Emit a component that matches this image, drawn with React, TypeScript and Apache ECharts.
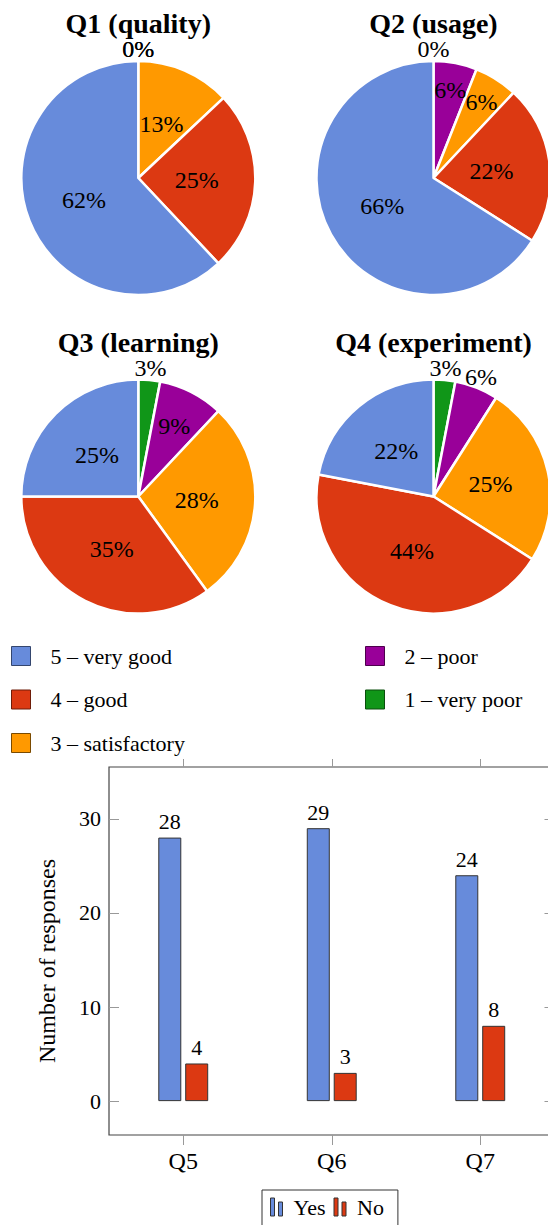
import React, { useEffect, useRef } from "react";
import * as echarts from "echarts";

// ---------- data ----------
const ratingNames = ["1 – very poor", "2 – poor", "3 – satisfactory", "4 – good", "5 – very good"];
const pieTitles = ["Q1 (quality)", "Q2 (usage)", "Q3 (learning)", "Q4 (experiment)"];
const q1Values = [0, 0, 13, 25, 62];
const q2Values = [0, 6, 6, 22, 66];
const q3Values = [3, 9, 28, 35, 25];
const q4Values = [3, 6, 25, 44, 22];
const barCategories = ["Q5", "Q6", "Q7"];
const yesValues = [28, 29, 24];
const noValues = [4, 3, 8];
const yTickValues = [0, 10, 20, 30];

// ---------- styles / layout ----------
const ratingColors = ["#109618", "#990099", "#ff9900", "#dc3912", "#678bdb"];
const ratingBorders = ["#0a4f0d", "#4d004d", "#7a4a00", "#6e1d09", "#34466e"];
const yesColor = "#678bdb";
const noColor = "#dc3912";
const SERIF = "Liberation Serif";
const pieCenters = [
  [138.3, 178],
  [433.5, 178],
  [138.3, 496.5],
  [433.5, 496.5],
];
const pieTitleY = [23, 23, 342, 342];
const pieRadius = 117;
const forcedOutside = [[], [], [], [1]];

function labelFrac(pct: number, outside: boolean) {
  if (outside || pct < 5) return 1.1;
  if (pct < 10) return 0.5 + 1.6 / pct;
  return 0.5;
}

export default function App() {
  const ref = useRef<HTMLDivElement>(null);
  useEffect(() => {
    document.body.style.margin = "0";
    if (!ref.current) return;
    const chart = echarts.init(ref.current, undefined, { renderer: "svg" });
    const pieValues = [q1Values, q2Values, q3Values, q4Values];

    const pieSeries = pieValues.map((vals, k) => ({
      type: "pie",
      center: pieCenters[k],
      radius: [0, pieRadius],
      startAngle: 90,
      clockwise: true,
      silent: true,
      z: 1,
      label: { show: false },
      labelLine: { show: false },
      itemStyle: { borderColor: "#fff", borderWidth: 2.5 },
      data: ratingNames.map((n, i) => ({
        name: n,
        value: vals[i],
        itemStyle: { color: ratingColors[i] },
      })),
    }));

    const graphics: any[] = [];
    pieValues.forEach((vals, k) => {
      const [cx, cy] = pieCenters[k];
      graphics.push({
        type: "text",
        x: cx,
        y: pieTitleY[k],
        z: 100,
        silent: true,
        style: {
          text: pieTitles[k],
          fontFamily: SERIF,
          fontSize: 28,
          fontWeight: "bold",
          fill: "#000",
          align: "center",
          verticalAlign: "middle",
        },
      });
      const sum = vals.reduce((a, b) => a + b, 0);
      let cum = 0;
      vals.forEach((v, i) => {
        const mid = ((cum + v / 2) / sum) * Math.PI * 2;
        cum += v;
        const r = pieRadius * labelFrac(v, forcedOutside[k].includes(i));
        graphics.push({
          type: "text",
          x: cx + r * Math.sin(mid),
          y: cy - r * Math.cos(mid),
          z: 100,
          silent: true,
          style: {
            text: `${v}%`,
            fontFamily: SERIF,
            fontSize: 24,
            fill: "#000",
            align: "center",
            verticalAlign: "middle",
          },
        });
      });
    });

    const legendItem = (i: number) => ({
      name: ratingNames[i],
      itemStyle: { borderColor: ratingBorders[i], borderWidth: 1 },
    });
    const pieLegendBase = {
      orient: "vertical",
      top: 640,
      itemWidth: 19,
      itemHeight: 19,
      itemGap: 21.5,
      icon: "rect",
      selectedMode: false,
      textStyle: {
        fontFamily: SERIF,
        fontSize: 22,
        color: "#000",
        padding: [0, 0, 0, 15],
      },
    };

    const option: any = {
      animation: false,
      textStyle: { fontFamily: SERIF },
      legend: [
        { ...pieLegendBase, left: 6, data: [4, 3, 2].map(legendItem) },
        { ...pieLegendBase, left: 360, data: [1, 0].map(legendItem) },
        {
          left: 262,
          top: 1190,
          orient: "horizontal",
          selectedMode: false,
          borderColor: "#333",
          borderWidth: 1,
          padding: [6, 14, 12, 8],
          itemGap: 8,
          itemWidth: 12,
          itemHeight: 18,
          icon: "path://M0,0H4V18H0Z M8,4H12V18H8Z",
          itemStyle: { borderColor: "#333", borderWidth: 1 },
          textStyle: { fontFamily: SERIF, fontSize: 22, color: "#000", padding: [0, 0, 0, 6] },
          data: ["Yes", "No"],
        },
      ],
      graphic: graphics,
      grid: {
        left: 109,
        top: 767,
        width: 445.5,
        height: 368,
        show: true,
        borderColor: "#444",
        borderWidth: 1.2,
        backgroundColor: "transparent",
      },
      xAxis: [
        {
          type: "category",
          data: barCategories,
          position: "bottom",
          axisLine: { show: false, onZero: false },
          axisTick: { show: true, alignWithLabel: true, inside: false, length: 10, lineStyle: { color: "#999" } },
          axisLabel: { fontFamily: SERIF, fontSize: 24, color: "#000", margin: 14 },
        },
        {
          type: "category",
          data: barCategories,
          position: "top",
          axisLine: { show: false, onZero: false },
          axisTick: { show: true, alignWithLabel: true, inside: false, length: 8, lineStyle: { color: "#999" } },
          axisLabel: { show: false },
        },
      ],
      yAxis: [
        {
          type: "value",
          min: -3.6,
          max: 35.5,
          position: "left",
          name: "Number of responses",
          nameLocation: "middle",
          nameGap: 50,
          nameTextStyle: { fontFamily: SERIF, fontSize: 24, color: "#000", padding: [0, 20, 0, 0] },
          axisLine: { show: false },
          splitLine: { show: false },
          axisTick: { show: true, inside: true, length: 10, customValues: yTickValues, lineStyle: { color: "#999" } },
          axisLabel: { fontFamily: SERIF, fontSize: 22, color: "#000", margin: 8, customValues: yTickValues },
        },
        {
          type: "value",
          min: -3.6,
          max: 35.5,
          position: "right",
          axisLine: { show: false },
          splitLine: { show: false },
          axisTick: { show: true, inside: true, length: 10, customValues: yTickValues, lineStyle: { color: "#999" } },
          axisLabel: { show: false, customValues: yTickValues },
        },
      ],
      series: [
        ...pieSeries,
        {
          type: "bar",
          name: "Yes",
          data: yesValues,
          barWidth: 23,
          barGap: "17%",
          silent: true,
          itemStyle: { color: yesColor, borderColor: "#333", borderWidth: 1 },
          label: { show: true, position: "top", distance: 5, fontFamily: SERIF, fontSize: 22, color: "#000" },
        },
        {
          type: "bar",
          name: "No",
          data: noValues,
          barWidth: 23,
          barGap: "17%",
          silent: true,
          itemStyle: { color: noColor, borderColor: "#333", borderWidth: 1 },
          label: { show: true, position: "top", distance: 5, fontFamily: SERIF, fontSize: 22, color: "#000" },
        },
      ],
    };
    chart.setOption(option);
    return () => chart.dispose();
  }, []);
  return (
    <div style={{ width: 548, height: 1225, overflow: "hidden", position: "relative" }}>
      <div ref={ref} style={{ width: 562, height: 1225 }} />
    </div>
  );
}
